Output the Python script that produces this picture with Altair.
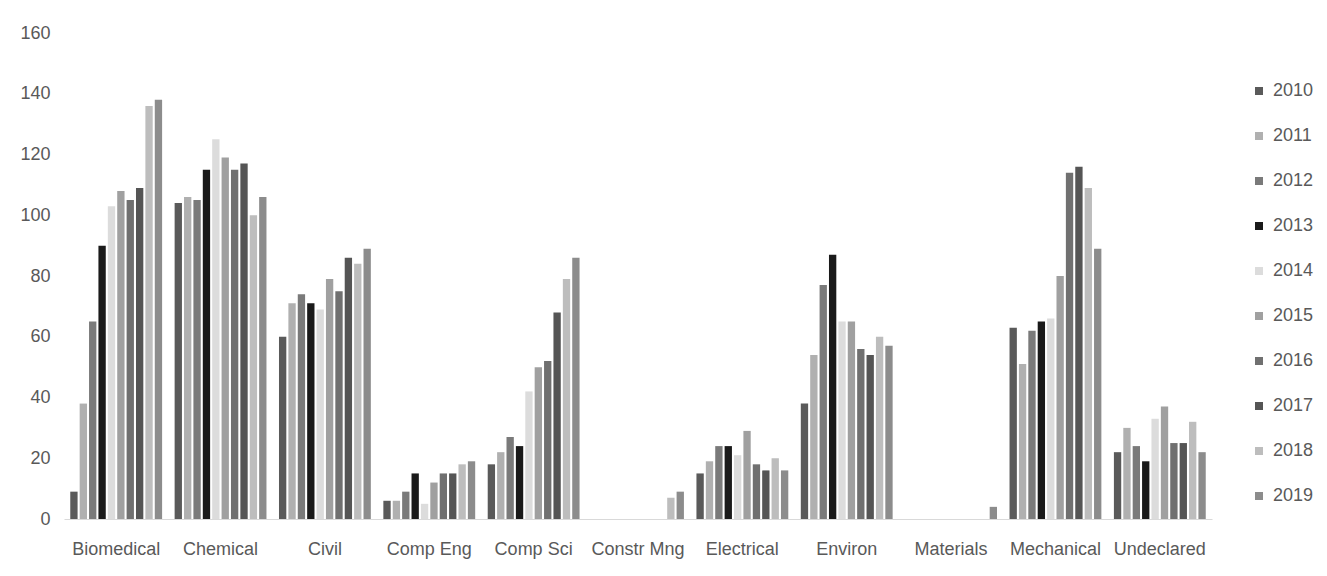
import altair as alt
import pandas as pd

categories = ["Biomedical", "Chemical", "Civil", "Comp Eng", "Comp Sci", "Constr Mng",
              "Electrical", "Environ", "Materials", "Mechanical", "Undeclared"]
years = ["2010", "2011", "2012", "2013", "2014", "2015", "2016", "2017", "2018", "2019"]

biomedical = [9, 38, 65, 90, 103, 108, 105, 109, 136, 138]
chemical = [104, 106, 105, 115, 125, 119, 115, 117, 100, 106]
civil = [60, 71, 74, 71, 69, 79, 75, 86, 84, 89]
comp_eng = [6, 6, 9, 15, 5, 12, 15, 15, 18, 19]
comp_sci = [18, 22, 27, 24, 42, 50, 52, 68, 79, 86]
constr_mng = [0, 0, 0, 0, 0, 0, 0, 0, 7, 9]
electrical = [15, 19, 24, 24, 21, 29, 18, 16, 20, 16]
environ = [38, 54, 77, 87, 65, 65, 56, 54, 60, 57]
materials = [0, 0, 0, 0, 0, 0, 0, 0, 0, 4]
mechanical = [63, 51, 62, 65, 66, 80, 114, 116, 109, 89]
undeclared = [22, 30, 24, 19, 33, 37, 25, 25, 32, 22]

series = [biomedical, chemical, civil, comp_eng, comp_sci, constr_mng,
          electrical, environ, materials, mechanical, undeclared]

colors = ["#5a5a5a", "#b0b0b0", "#7a7a7a", "#1a1a1a", "#dcdcdc",
          "#a0a0a0", "#707070", "#555555", "#bdbdbd", "#8c8c8c"]

rows = []
for cat, vals in zip(categories, series):
    for yr, v in zip(years, vals):
        rows.append({"Program": cat, "Year": yr, "Count": v})
df = pd.DataFrame(rows)

FONT = "Liberation Sans"
TXT = "#595959"

chart = alt.Chart(df).mark_bar().encode(
    x=alt.X("Program:N", sort=categories, title=None,
            scale=alt.Scale(paddingInner=0.12, paddingOuter=0.06),
            axis=alt.Axis(labelAngle=0, ticks=False, domain=True, domainColor="#d9d9d9",
                          labelFont=FONT, labelFontSize=18, labelColor=TXT, labelPadding=21)),
    xOffset=alt.XOffset("Year:N", sort=years, scale=alt.Scale(paddingInner=0.22, paddingOuter=0)),
    y=alt.Y("Count:Q", title=None,
            scale=alt.Scale(domain=[0, 160]),
            axis=alt.Axis(values=list(range(0, 161, 20)), ticks=False, domain=False, grid=False,
                          labelFont=FONT, labelFontSize=18, labelColor=TXT, labelPadding=14)),
    color=alt.Color("Year:N", sort=years,
                    scale=alt.Scale(domain=years, range=colors),
                    legend=alt.Legend(title=None, orient="none", legendX=1186, legendY=49,
                                      symbolType="square", symbolSize=64, symbolStrokeWidth=0,
                                      labelFont=FONT, labelFontSize=18, labelColor=TXT,
                                      rowPadding=27, labelOffset=5)),
).properties(
    width=1148, height=486,
    autosize=alt.AutoSizeParams(type="none"),
    padding={"left": 56, "top": 25, "right": 106, "bottom": 40},
).configure(background="white").configure_view(stroke=None)

chart.save("out.html", embed_options={"renderer": "svg", "actions": False})
